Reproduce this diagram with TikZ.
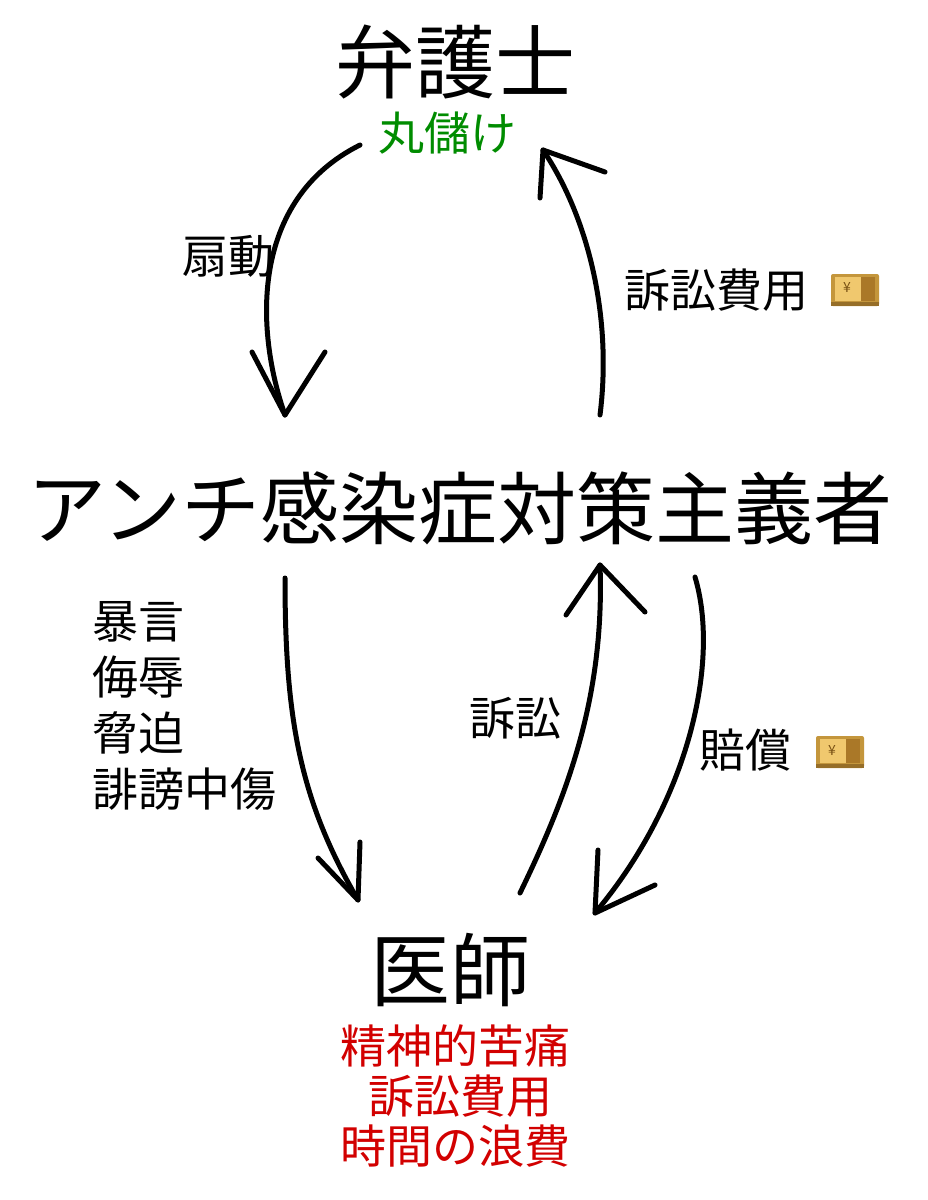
\documentclass[tikz,border=0pt]{standalone}
\usepackage{fontspec}
\newfontfamily\jp{Noto Sans CJK JP}
\begin{document}
\begin{tikzpicture}[x=1pt,y=-1pt,
  arr/.style={line width=5pt,line cap=round,line join=round,black},
  big/.style={font=\jp\fontsize{80}{90}\selectfont},
  mid/.style={font=\jp\fontsize{79}{90}\selectfont},
  sm/.style={font=\jp\fontsize{46}{56}\selectfont},
  note/.style={font=\jp\fontsize{46}{56}\selectfont,align=left,inner sep=0pt}]
\useasboundingbox[fill=white] (0,0) rectangle (928,1200);
\newcommand\money[1]{%
  \begin{scope}[shift={#1}]
  \fill[rounded corners=2pt,fill={rgb,255:red,196;green,150;blue,60}] (-24,-16) rectangle (24,16);
  \fill[fill={rgb,255:red,240;green,200;blue,110}] (-20,-13) rectangle (20,11);
  \fill[fill={rgb,255:red,170;green,120;blue,40}] (6,-13) rectangle (20,11);
  \fill[fill={rgb,255:red,150;green,110;blue,40}] (-24,12) rectangle (24,16);
  \node[font=\jp\fontsize{14}{14}\selectfont,text={rgb,255:red,120;green,80;blue,20}] at (-8,-2) {¥};
  \end{scope}}
\node[big] (law) at (455,62) {弁護士};
\node[sm,text={rgb,255:red,0;green,140;blue,0}] (gain) at (447,133) {丸儲け};
\node[sm] (incite) at (228,256) {扇動};
\node[sm] (fee) at (716,290) {訴訟費用};
\money{(855,290)}
\node[mid] (anti) at (460,508) {アンチ感染症対策主義者};
\node[note,anchor=north west] (abuse) at (92,601) {暴言\\侮辱\\脅迫\\誹謗中傷};
\node[sm] (suit) at (515,718) {訴訟};
\node[sm] (comp) at (745,750) {賠償};
\money{(840,752)}
\node[big] (doc) at (450,970) {医師};
\node[sm,align=center,text={rgb,255:red,210;green,0;blue,0},inner sep=0pt] (harm) at (455,1096) {精神的苦痛\\[-6pt]\ 訴訟費用\\[-6pt]時間の浪費};

\coordinate (a1s) at (360,145); \coordinate (a1e) at (285,415);
\draw[arr] (a1s) .. controls (250,200) and (255,330) .. (a1e);
\draw[arr] (252,352) -- (a1e) -- (325,352);
\coordinate (a2s) at (600,415); \coordinate (a2e) at (543,150);
\draw[arr] (a2s) .. controls (612,320) and (590,220) .. (a2e);
\draw[arr] (540,198) -- (a2e) -- (605,172);
\coordinate (a3s) at (285,578); \coordinate (a3e) at (358,900);
\draw[arr] (a3s) .. controls (285,720) and (300,800) .. (a3e);
\draw[arr] (318,858) -- (a3e) -- (360,842);
\coordinate (a4s) at (520,893); \coordinate (a4e) at (600,565);
\draw[arr] (a4s) .. controls (565,800) and (605,700) .. (a4e);
\draw[arr] (566,615) -- (a4e) -- (645,612);
\coordinate (a5s) at (695,577); \coordinate (a5e) at (595,913);
\draw[arr] (a5s) .. controls (720,660) and (690,800) .. (a5e);
\draw[arr] (598,850) -- (a5e) -- (655,885);
\end{tikzpicture}
\end{document}
